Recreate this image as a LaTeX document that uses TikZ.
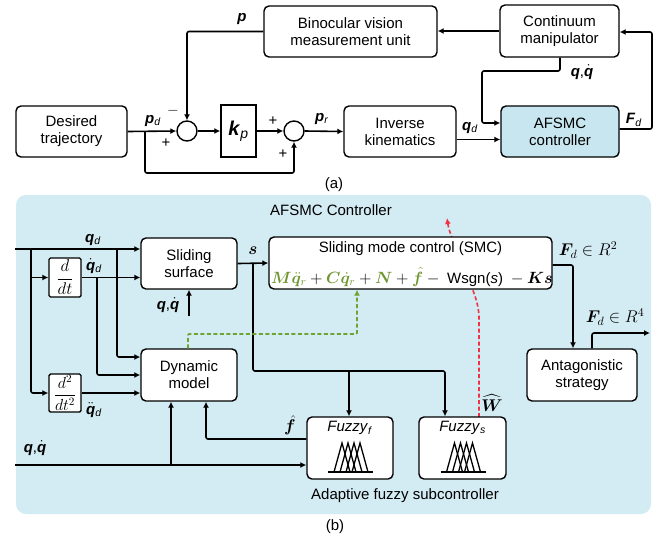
\RequirePackage{fix-cm}
\documentclass[tikz,border=0pt]{standalone}
\usepackage[no-math]{fontspec}
\setmainfont{Liberation Sans}
\usepackage{amsmath}
\usepackage{bm}
\usetikzlibrary{arrows.meta,calc}
\definecolor{bgblue}{RGB}{211,235,242}
\definecolor{boxblue}{RGB}{200,230,240}
\definecolor{eqgreen}{RGB}{112,150,48}
\definecolor{dgreen}{RGB}{110,165,50}
\definecolor{dred}{RGB}{240,50,70}
\newcommand\bqq{\textbf{\textit{q}}}
\newcommand\sbs[1]{\textsubscript{\textit{#1}}}
\newcommand\qdotx{$\dot{\text{\bqq}}$}
\newcommand\qddotx{$\ddot{\text{\bqq}}$}
\begin{document}
\begin{tikzpicture}[x=1pt,y=-1pt,
  every node/.style={font=\fontsize{15}{17}\selectfont},
  box/.style={draw,line width=1.4pt,rounded corners=5pt,fill=white,align=center,inner sep=0pt},
  sqbox/.style={draw,line width=1.4pt,fill=white,inner sep=0pt,align=center},
  sumc/.style={draw,circle,line width=1.4pt,minimum size=20pt,inner sep=0pt,fill=white},
  conn/.style={line width=1.6pt,-{Latex[length=6pt,width=6pt]},rounded corners=2pt},
  gconn/.style={conn,dgreen,dash pattern=on 4pt off 2.5pt,rounded corners=1pt},
  rconn/.style={conn,dred,dash pattern=on 4pt off 2.5pt},
  lbl/.style={inner sep=0pt},
  mlbl/.style={inner sep=0pt,font=\fontsize{17}{19}\selectfont}]
\useasboundingbox (0,0) rectangle (668,539);
% ---------- (a) ----------
\node[box,minimum width=111pt,minimum height=51pt] (traj) at (71.5,131.5) {Desired\\trajectory};
\node[box,minimum width=173pt,minimum height=51pt] (bino) at (350.5,31.5) {Binocular vision\\measurement unit};
\node[box,minimum width=119pt,minimum height=52pt] (cont) at (559.5,31) {Continuum\\manipulator};
\node[box,minimum width=112pt,minimum height=51pt] (ik) at (400,131.5) {Inverse\\kinematics};
\node[box,fill=boxblue,minimum width=118pt,minimum height=51pt] (afsmc) at (560,131.5) {AFSMC\\controller};
\node[sqbox,minimum width=35pt,minimum height=52pt,font=\fontsize{20}{22}\selectfont] (kp) at (238.5,131) {\textbf{\textit{k}}\sbs{p}};
\node[sumc] (s1) at (187,131) {};
\node[sumc] (s2) at (294,131) {};

\draw[conn] (traj.east) -- (s1.west);
\draw[conn] (s1.east) -- (kp.west);
\draw[conn] (kp.east) -- (s2.west);
\draw[conn] (s2.east) -- (ik.west);
\draw[conn] ([yshift=-8pt]ik.east) -- ([yshift=-8pt]afsmc.west);
\coordinate (qa1) at (560,71);
\coordinate (qa2) at (482,71);
\coordinate (qa3) at (482,123);
\draw[conn] (cont.south -| qa1) -- (qa1) -- (qa2) -- (qa3) -- (qa3 -| afsmc.west);
\coordinate (fa1) at (652,129);
\coordinate (fa2) at (652,32);
\draw[conn] (fa1 -| afsmc.east) -- (fa1) -- (fa2) -- (fa2 -| cont.east);
\draw[conn] (cont.west) -- (cont.west -| bino.east);
\draw[conn] (bino.west) -- (bino.west -| s1) -- (s1.north);
\coordinate (ffa) at (145,173);
\draw[conn] (ffa |- traj.east) -- (ffa) -- (ffa -| s2) -- (s2.south);

\node[lbl] at (242,19) {\textbf{\textit{p}}};
\node[lbl] at (153,121) {\textbf{\textit{p}}\sbs{d}};
\node[lbl] at (173,111) {$-$};
\node[lbl] at (166,143) {+};
\node[lbl] at (273,121) {+};
\node[lbl] at (283,154) {+};
\node[lbl] at (322,119) {\textbf{\textit{p}}\sbs{r}};
\node[lbl] at (470,128) {\bqq\sbs{d}};
\node[lbl] at (582,72) {\bqq,\qdotx};
\node[lbl] at (634,120) {\textbf{\textit{F}}\sbs{d}};
\node[lbl] at (334,185) {(a)};

% ---------- (b) ----------
\fill[bgblue,rounded corners=10pt] (16,195) rectangle (651,514);
\node[lbl] at (331,210) {AFSMC Controller};

\coordinate (r0) at (447,218);
\coordinate (r1) at (479,320);
\draw[rconn] (479,417) -- (r1) .. controls (479,300) and (470,285) .. (462,262) .. controls (455,245) and (449,232) .. (r0);

\node[box,minimum width=96pt,minimum height=51pt] (ss) at (189,263.5) {Sliding\\surface};
\node[box,minimum width=283pt,minimum height=52pt] (smc) at (410.5,263) {};
\node[lbl] (smct) at (410.5,249) {Sliding mode control (SMC)};
\node[lbl,font=\fontsize{16.3}{19}\selectfont] (smce) at (412,277) {$\textcolor{eqgreen}{\bm M\ddot{\bm q}_r} + \textcolor{eqgreen}{\bm C\dot{\bm q}_r} + \textcolor{eqgreen}{\bm N} + \textcolor{eqgreen}{\hat{\bm f}} -{}$\fontsize{15}{17}\selectfont\ Wsgn(\textit{s}) \fontsize{16.3}{19}\selectfont${}-\bm{K}\bm{s}$};
\node[sqbox,rounded corners=1.5pt,minimum width=32pt,minimum height=39pt,font=\fontsize{17}{19}\selectfont] (ddt) at (65,277.5) {$\dfrac{d}{dt}$};
\node[sqbox,rounded corners=1.5pt,minimum width=32pt,minimum height=38pt,font=\fontsize{16}{18}\selectfont] (d2) at (65,393) {$\dfrac{d^2}{dt^2}$};
\node[box,minimum width=96pt,minimum height=52pt] (dyn) at (189,375) {Dynamic\\model};
\node[box,minimum width=86pt,minimum height=62pt] (ff) at (350,448) {};
\node[box,minimum width=87pt,minimum height=62pt] (fs) at (462.5,448) {};
\node[box,minimum width=110pt,minimum height=52pt] (ant) at (582,375) {Antagonistic\\strategy};

\node[lbl] at (350,428) {\textit{Fuzzy}\sbs{f}};
\node[lbl] at (462.5,428) {\textit{Fuzzy}\sbs{s}};
\foreach \c in {ff,fs}{
  \draw[line width=1.3pt] ($(\c.center)+(-22,24)$) -- +(45,0);
  \foreach \dx in {-8,-2,4,10}
    \draw[line width=1.3pt] ($(\c.center)+(\dx-8,24)$) -- +(8,-29) -- +(16,0);
}

\coordinate (qin) at (15,249);
\coordinate (v1) at (31,249);
\coordinate (v1b) at (31,393);
\draw[conn] (qin) -- (qin -| ss.west);
\draw[conn] (v1) -- (v1b) -- (d2.west);
\draw[conn] (v1 |- ddt.west) -- (ddt.west);
\draw[conn] (ddt.east) -- (ddt.east -| ss.west);
\coordinate (v3) at (117,357);
\draw[conn] (v3 |- qin) -- (v3) -- (v3 -| dyn.west);
\coordinate (v2) at (97,375);
\draw[conn] (v2 |- ddt.east) -- (v2) -- (dyn.west);
\draw[conn] (d2.east) -- (d2.east -| dyn.west);
\coordinate (qq) at (15,465);
\coordinate (qb) at (171,465);
\draw[conn] (qq) -- (qq -| ff.west);
\draw[conn] (qb) -- (qb |- dyn.south);
\coordinate (fh) at (206,439);
\draw[conn] (fh -| ff.west) -- (fh) -- (fh |- dyn.south);
\draw[conn] (ss.east) -- (smc.west);
\coordinate (sb1) at (253,263);
\coordinate (sb2) at (253,371);
\coordinate (sb3) at (445,371);
\coordinate (sb4) at (349,371);
\draw[conn] (sb1) -- (sb2) -- (sb3) -- (sb3 |- fs.north);
\draw[conn] (sb4) -- (sb4 |- ff.north);
\coordinate (qs) at (189,316);
\draw[conn] (qs) -- (ss.south);
\coordinate (g1) at (188,334);
\coordinate (g2) at (357,334);
\draw[gconn] (g1 |- dyn.north) -- (g1) -- (g2) -- (g2 |- smc.south);
\coordinate (fd1) at (573,265);
\draw[conn] (fd1 -| smc.east) -- (fd1) -- (fd1 |- ant.north);
\coordinate (o1) at (592,333);
\coordinate (o2) at (650,333);
\draw[conn] (o1 |- ant.north) -- (o1) -- (o2);

\node[lbl] at (93,240) {\bqq\sbs{d}};
\node[lbl] at (94,266) {\qdotx\sbs{d}};
\node[lbl] at (94,410) {\qddotx\sbs{d}};
\node[lbl] at (35,448) {\bqq,\qdotx};
\node[lbl] at (168,305) {\bqq,\qdotx};
\node[mlbl] at (253,251) {$\bm{s}$};
\node[mlbl] at (290,425) {$\hat{\bm f}$};
\node[mlbl] at (492,403) {$\widehat{\bm W}$};
\node[mlbl] at (588,250) {$\bm F_d\in R^2$};
\node[mlbl] at (615,317) {$\bm F_d\in R^4$};
\node[lbl] at (405,496) {Adaptive fuzzy subcontroller};
\node[lbl] at (335,527) {(b)};
\end{tikzpicture}
\end{document}
